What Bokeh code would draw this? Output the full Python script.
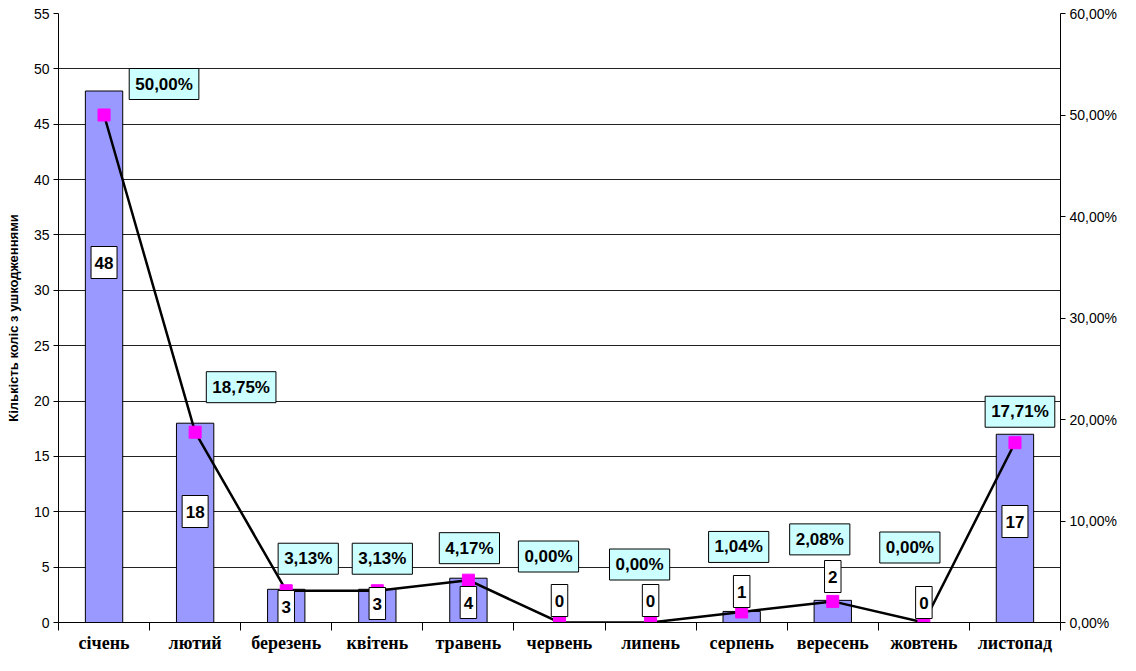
from bokeh.plotting import figure
from bokeh.models import Range1d, LinearAxis, FixedTicker, Label, CustomJSTickFormatter
from bokeh.core.properties import value
from bokeh.embed import file_html
from bokeh.resources import INLINE

# ---- data ----
months = ["січень", "лютий", "березень", "квітень", "травень", "червень",
          "липень", "серпень", "вересень", "жовтень", "листопад"]
counts = [48, 18, 3, 3, 4, 0, 0, 1, 2, 0, 17]
shares = [50.00, 18.75, 3.13, 3.13, 4.17, 0.00, 0.00, 1.04, 2.08, 0.00, 17.71]
count_ticks = list(range(0, 56, 5))
share_ticks = [0, 10, 20, 30, 40, 50, 60]
y_title = "Кількість коліс з ушкодженнями"

# ---- label layout (screen px offsets) ----
bar_label_dy = [360, 111, 16, 19, 20, 22, 22, 31, 46, 20, 101]
pct_label_dx = [60, 46, 22, 5, 1, -11, -11, -3, -13, -14, 5]
pct_label_dy = [31, 45, 32, 32, 32, 66, 58, 65, 62, 75, 31]

W, H = 1120, 655
B_LEFT, B_RIGHT, B_TOP, B_BOTTOM = 58, 60, 13, 33
YMAX = 55

n = len(months)
xs = [i + 0.5 for i in range(n)]

p = figure(width=W, height=H, x_range=Range1d(0, n), y_range=Range1d(0, YMAX),
           output_backend="svg", toolbar_location=None, x_axis_location=None,
           min_border_left=B_LEFT, min_border_right=B_RIGHT,
           min_border_top=B_TOP, min_border_bottom=B_BOTTOM)
p.outline_line_color = None
p.background_fill_color = "white"
p.border_fill_color = "white"
p.xgrid.visible = False
p.ygrid.ticker = FixedTicker(ticks=count_ticks)
p.ygrid.grid_line_color = "#222222"
p.ygrid.grid_line_width = 1

# left axis
ya = p.yaxis[0]
ya.ticker = FixedTicker(ticks=count_ticks)
ya.axis_label = y_title
ya.axis_label_text_font = "Liberation Sans"
ya.axis_label_text_font_style = "bold"
ya.axis_label_text_font_size = "13px"
ya.axis_label_text_color = "black"
ya.axis_label_standoff = 10
ya.major_label_text_font = "Liberation Sans"
ya.major_label_text_font_size = "14px"
ya.major_label_text_color = "black"
ya.major_label_standoff = 4
ya.major_tick_in = 0
ya.major_tick_out = 5
ya.minor_tick_line_color = None
ya.axis_line_color = "black"
ya.major_tick_line_color = "black"

# right axis
p.extra_y_ranges = {"pct": Range1d(0, 60)}
ra = LinearAxis(y_range_name="pct", ticker=FixedTicker(ticks=share_ticks),
                formatter=CustomJSTickFormatter(code="return tick.toFixed(2).replace('.', ',') + '%';"))
ra.major_label_text_font = "Liberation Sans"
ra.major_label_text_font_size = "14px"
ra.major_label_text_color = "black"
ra.major_label_standoff = 4
ra.major_tick_in = 0
ra.major_tick_out = 5
ra.minor_tick_line_color = None
ra.axis_line_color = "black"
p.add_layout(ra, "right")

# bottom axis: boundary ticks
ba = LinearAxis(ticker=FixedTicker(ticks=list(range(n + 1))),
                formatter=CustomJSTickFormatter(code="return '';"))
ba.major_label_text_font_size = "1px"
ba.major_label_standoff = 0
ba.major_tick_in = 0
ba.major_tick_out = 8
ba.minor_tick_line_color = None
ba.axis_line_color = "black"
p.add_layout(ba, "below")

# bottom axis: month names
la = LinearAxis(ticker=FixedTicker(ticks=xs),
                formatter=CustomJSTickFormatter(args=dict(names=months),
                                                code="return names[Math.floor(tick)] || '';"))
la.axis_line_color = None
la.major_tick_line_color = None
la.minor_tick_line_color = None
la.major_tick_out = 0
la.major_tick_in = 0
la.major_label_standoff = 2
la.major_label_text_font = "Liberation Serif"
la.major_label_text_font_style = "bold"
la.major_label_text_font_size = "18px"
la.major_label_text_color = "black"
p.add_layout(la, "below")

# bars
p.vbar(x=xs, top=counts, bottom=0, width=0.41, fill_color="#9999FF",
       line_color="black", line_width=1)

# line + markers
p.line(xs, shares, y_range_name="pct", line_color="black", line_width=2.5)
p.scatter(xs, shares, y_range_name="pct", marker="square", size=12,
          fill_color="#FF00FF", line_color="#FF00FF")

# bar value labels: white boxes (screen-sized) + text
unit_px = (H - B_TOP - B_BOTTOM) / YMAX
box_y = [dy / unit_px for dy in bar_label_dy]
texts = [str(c) for c in counts]
box_w = [len(t) * 9.5 + 7 for t in texts]
p.rect(x=xs, y=box_y, width=box_w, height=32, width_units="screen", height_units="screen",
       fill_color="white", line_color="black", line_width=1)
p.text(x=xs, y=box_y, text=texts, text_font=value("Liberation Sans"), text_font_style="bold",
       text_font_size="17px", text_align="center", text_baseline="middle", text_color="black")

# percentage labels
common = dict(text_font="Liberation Sans", text_font_style="bold", text_font_size="17px",
              text_align="center", text_baseline="middle", text_color="black",
              border_line_color="black", border_line_width=1)
for i in range(n):
    txt = f"{shares[i]:.2f}".replace(".", ",") + "%"
    p.add_layout(Label(x=xs[i], y=shares[i], y_range_name="pct",
                       x_offset=pct_label_dx[i], y_offset=pct_label_dy[i], text=txt,
                       background_fill_color="#CCFFFF", padding=6, **common))

open("out.html", "w").write(file_html(p, INLINE))
